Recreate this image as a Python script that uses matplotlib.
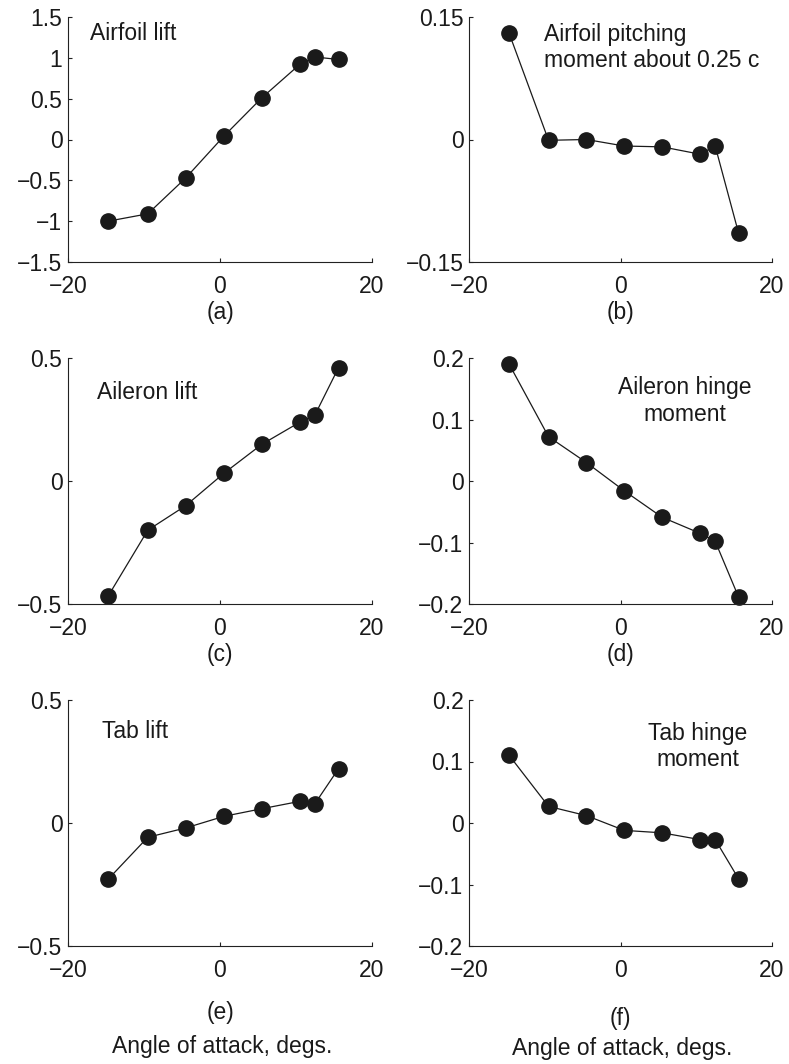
import matplotlib
matplotlib.use("Agg")
import matplotlib.pyplot as plt

plt.rcParams['font.family'] = ['Liberation Sans', 'DejaVu Sans']
plt.rcParams['font.size'] = 16.5

# Angle of attack (deg), shared by all six panels
alpha = [-14.7, -9.5, -4.5, 0.5, 5.5, 10.5, 12.5, 15.6]

# Coefficients
airfoil_lift = [-1.0, -0.91, -0.47, 0.04, 0.51, 0.92, 1.01, 0.98]
airfoil_moment = [0.130, -0.001, 0.0, -0.008, -0.009, -0.018, -0.008, -0.115]
aileron_lift = [-0.467, -0.20, -0.10, 0.031, 0.149, 0.239, 0.269, 0.461]
aileron_hinge = [0.19, 0.072, 0.030, -0.016, -0.059, -0.085, -0.098, -0.189]
tab_lift = [-0.228, -0.058, -0.020, 0.027, 0.058, 0.088, 0.079, 0.221]
tab_hinge = [0.110, 0.027, 0.012, -0.012, -0.016, -0.027, -0.027, -0.091]

# Axis ticks
x_ticks = [-20, 0, 20]
yticks_a = [-1.5, -1, -0.5, 0, 0.5, 1, 1.5]
yticks_b = [-0.15, 0, 0.15]
yticks_c = [-0.5, 0, 0.5]
yticks_d = [-0.2, -0.1, 0, 0.1, 0.2]
yticks_e = [-0.5, 0, 0.5]
yticks_f = [-0.2, -0.1, 0, 0.1, 0.2]

W, H = 789, 1064
fig = plt.figure(figsize=(W / 100, H / 100), dpi=100)
ink = '#1a1a1a'


def rect(left, top, right, bottom):
    # pixel box -> figure fraction
    return [left / W, 1 - bottom / H, (right - left) / W, (bottom - top) / H]


def fmt(v):
    return ('%g' % v).replace('-', '\u2212')


def panel(box, y, yticks, note, note_xy, note_ha, tag, tag_off):
    ax = fig.add_axes(box)
    ax.plot(alpha, y, '-', color=ink, lw=0.9,
            marker='o', ms=11, mfc=ink, mec=ink, clip_on=False)
    ax.set_xlim(x_ticks[0], x_ticks[-1])
    ax.set_ylim(yticks[0], yticks[-1])
    ax.set_xticks(x_ticks)
    ax.set_xticklabels([fmt(v) for v in x_ticks])
    ax.set_yticks(yticks)
    ax.set_yticklabels([fmt(v) for v in yticks])
    for s in ['top', 'right']:
        ax.spines[s].set_visible(False)
    for s in ['left', 'bottom']:
        ax.spines[s].set_linewidth(0.8)
        ax.spines[s].set_color('#222222')
    ax.tick_params(direction='in', length=3, width=0.8, color='#222222',
                   labelcolor=ink)
    ax.tick_params(axis='y', pad=4)
    ax.tick_params(axis='x', pad=9.5)
    ax.text(note_xy[0], note_xy[1], note, ha=note_ha, va='center',
            multialignment=note_ha, color=ink, linespacing=1.18)
    ax.annotate(tag, xy=(0.5, 0), xycoords='axes fraction',
                xytext=(0, -tag_off), textcoords='offset pixels',
                ha='center', va='center', color=ink)
    return ax


tops = [17, 358, 700]
bottoms = [262, 604, 946]

panel(rect(68, tops[0], 372, bottoms[0]), airfoil_lift, yticks_a,
      'Airfoil lift', (-17.1, 1.30), 'left', '(a)', 51)
panel(rect(469, tops[0], 772, bottoms[0]), airfoil_moment, yticks_b,
      'Airfoil pitching\nmoment about 0.25 c', (-10.1, 0.113), 'left', '(b)', 51)
panel(rect(68, tops[1], 372, bottoms[1]), aileron_lift, yticks_c,
      'Aileron lift', (-16.2, 0.358), 'left', '(c)', 51)
panel(rect(469, tops[1], 772, bottoms[1]), aileron_hinge, yticks_d,
      'Aileron hinge\nmoment', (8.5, 0.130), 'center', '(d)', 51)
panel(rect(68, tops[2], 372, bottoms[2]), tab_lift, yticks_e,
      'Tab lift', (-15.5, 0.37), 'left', '(e)', 67)
panel(rect(469, tops[2], 772, bottoms[2]), tab_hinge, yticks_f,
      'Tab hinge\nmoment', (10.2, 0.125), 'center', '(f)', 73)

# x-axis captions under the bottom row
fig.text(222 / W, 1 - 1053 / H, 'Angle of attack, degs.', ha='center', va='baseline', color=ink)
fig.text(622 / W, 1 - 1055 / H, 'Angle of attack, degs.', ha='center', va='baseline', color=ink)

fig.savefig('out.png', dpi=100, facecolor='white')
